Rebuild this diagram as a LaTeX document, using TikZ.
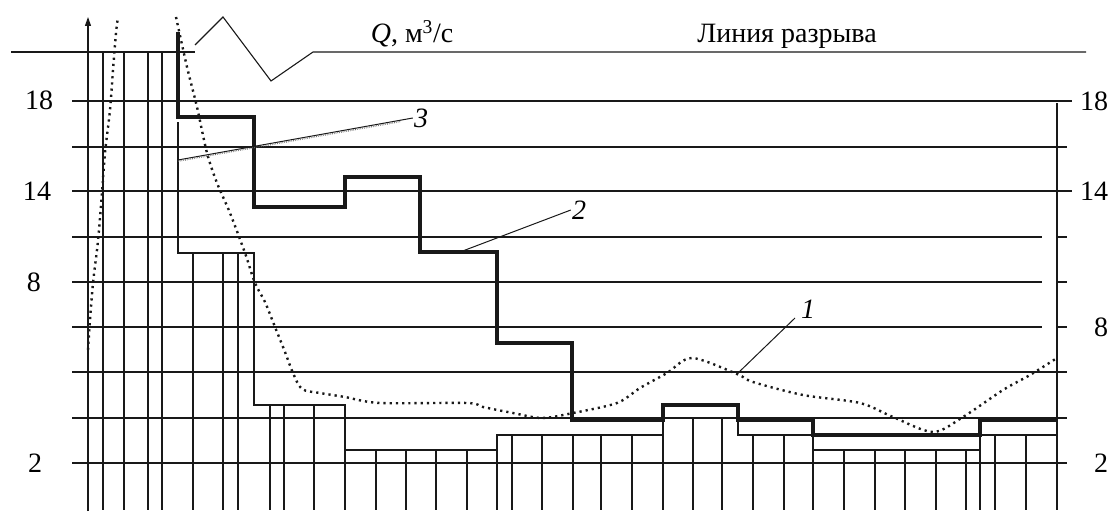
\documentclass[tikz,border=0pt]{standalone}
\usepackage{fontspec}
\setmainfont{Liberation Serif}
\usetikzlibrary{arrows.meta,calc}
\begin{document}
\begin{tikzpicture}[x=1pt,y=-1pt,
  gridline/.style={line width=1.1pt,black!90},
  stepline/.style={line width=3.6pt,black!90,line join=miter},
  flowline/.style={line width=2.4pt,black!90,dash pattern=on 2.2pt off 4pt},
  leader/.style={line width=1pt,black!90},
  numlabel/.style={font=\fontsize{28}{32}\selectfont,inner sep=0pt},
  curvelabel/.style={font=\fontsize{28}{32}\selectfont\itshape,inner sep=1pt}]
\useasboundingbox (0,0) rectangle (1110,511);
\draw[gridline] (11,52) -- (195,52);
\draw[gridline] (195,45) -- (223,17) -- (271,81) -- (313,52) -- (1086,52);
\foreach \y/\xe in {101/1072,147/1057,191/1072,237/1042,282/1042,327/1042,372/1067,418/1067,463/1067}
  \draw[gridline] (72,\y) -- (\xe,\y);
\foreach \y in {147,237,282,327} \draw[gridline] (1057,\y) -- (1067,\y);
\draw[gridline] (1057,103) -- (1057,510);
\draw[gridline,-{Triangle[length=9pt,width=6pt]}] (88,511) -- (88,17);
\foreach \x in {103,124,148,162} \draw[gridline] (\x,52) -- (\x,510);
\draw[gridline] (178,122) -- (178,253) -- (254,253) -- (254,405) -- (345,405) -- (345,450) -- (497,450) -- (497,435) -- (663,435) -- (663,418) -- (738,418) -- (738,435) -- (813,435) -- (813,450) -- (980,450) -- (980,435) -- (1057,435);
\foreach \x in {193,223,238} \draw[gridline] (\x,253) -- (\x,510);
\foreach \x in {270,284,314,345} \draw[gridline] (\x,405) -- (\x,510);
\foreach \x in {376,406,436,467} \draw[gridline] (\x,450) -- (\x,510);
\foreach \x in {497,512,542,573,601,632,663} \draw[gridline] (\x,435) -- (\x,510);
\foreach \x in {693,722} \draw[gridline] (\x,418) -- (\x,510);
\foreach \x in {753,784} \draw[gridline] (\x,435) -- (\x,510);
\foreach \x in {813,844,875,905,936,966} \draw[gridline] (\x,450) -- (\x,510);
\foreach \x in {980,995,1026} \draw[gridline] (\x,435) -- (\x,510);
\draw[stepline] (178,32) -- (178,117) -- (254,117) -- (254,207) -- (345,207) -- (345,177) -- (420,177) -- (420,252) -- (497,252) -- (497,343) -- (572,343) -- (572,420) -- (663,420) -- (663,405) -- (738,405) -- (738,420) -- (813,420) -- (813,435) -- (980,435) -- (980,420) -- (1057,420);
\draw[flowline] plot[smooth,tension=0.5] coordinates {(88,350) (90,320) (93,283) (97,250) (99,230) (102,193) (105,153) (110,110) (113,70) (116,33) (118,17)};
\draw[flowline] plot[smooth,tension=0.5] coordinates {(176,17) (187,67) (197,107) (207,153) (217,183) (230,213) (245,253) (255,283) (265,302) (275,327) (285,352) (293,373) (302,389) (320,393) (345,397) (380,403) (467,403) (483,407) (513,413) (542,418) (573,413) (617,403) (640,388) (667,373) (692,358) (737,374) (753,382) (803,395) (860,403) (893,417) (933,432) (963,417) (1003,390) (1030,375) (1057,358)};
\coordinate (p1) at (737,374);
\coordinate (p2) at (460,252);
\coordinate (p3) at (178,160);
\node[curvelabel] (lab1) at (808,309) {1};
\node[curvelabel] (lab2) at (579,210) {2};
\node[curvelabel] (lab3) at (421,118) {3};
\draw[leader] (p1) -- (795,318);
\draw[leader] (p2) -- (lab2.west);
\draw[leader] (p3) -- (lab3.west);
\draw[line width=1.4pt,black!60,dash pattern=on 0.6pt off 1.2pt] ($(p3)+(0,1.2)$) -- ($(lab3.west)+(-12,3.5)$);
\node[numlabel] (l18) at (39,100) {18};
\node[numlabel] (l14) at (37,191) {14};
\node[numlabel] (l8) at (34,282) {8};
\node[numlabel] (l2) at (35,463) {2};
\node[numlabel] (r18) at (1094,101) {18};
\node[numlabel] (r14) at (1094,191) {14};
\node[numlabel] (r8) at (1101,327) {8};
\node[numlabel] (r2) at (1101,463) {2};
\node[numlabel,anchor=base] (qlab) at (412,43) {{\itshape Q}, м\textsuperscript{3}/с};
\node[numlabel,anchor=base] (break) at (787,43) {Линия разрыва};
\end{tikzpicture}
\end{document}
